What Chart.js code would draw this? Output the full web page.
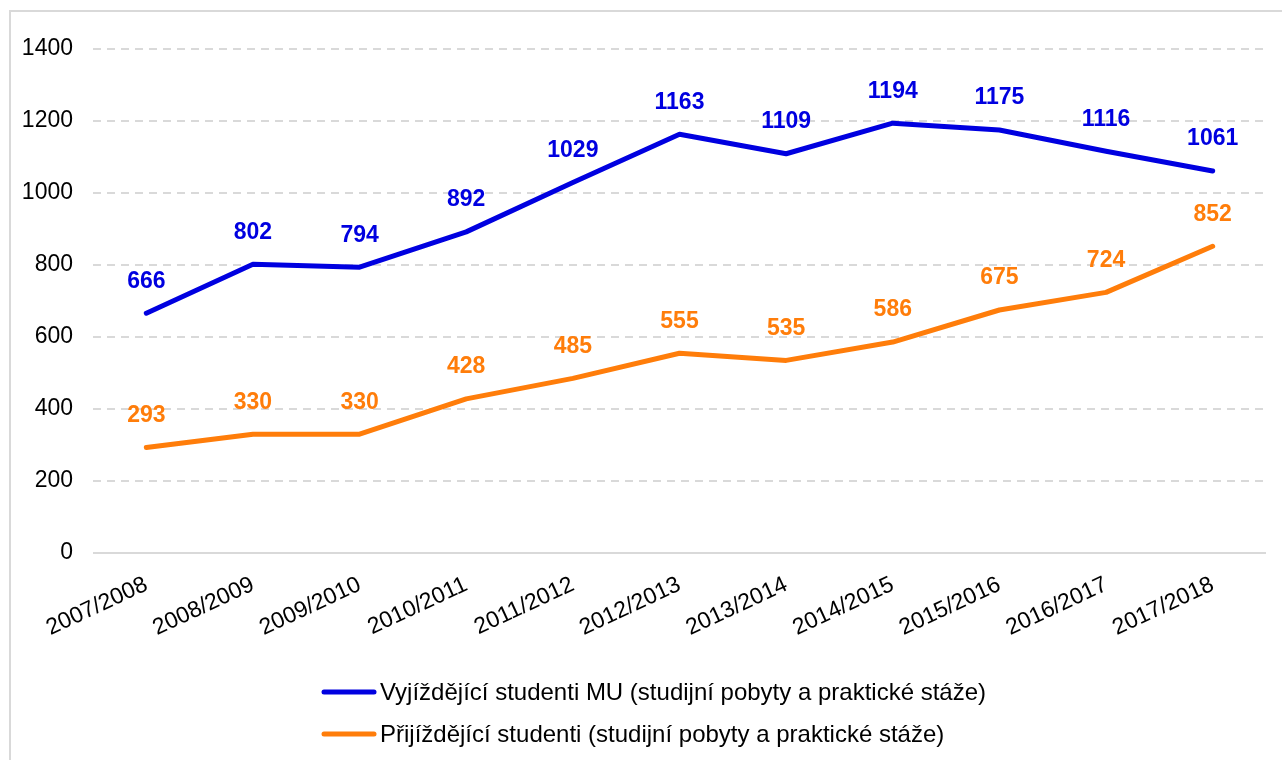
<!DOCTYPE html>
<html>
<head>
<meta charset="utf-8">
<style>
  html, body { margin: 0; padding: 0; background: #fff; }
  #wrap { width: 1282px; height: 760px; position: relative; }
</style>
<script src="https://cdn.jsdelivr.net/npm/chart.js@4"></script>
</head>
<body>
<div id="wrap"><canvas id="c" width="1282" height="760"></canvas></div>
<script>
const categories = ['2007/2008','2008/2009','2009/2010','2010/2011','2011/2012','2012/2013','2013/2014','2014/2015','2015/2016','2016/2017','2017/2018'];
const outgoing = [666, 802, 794, 892, 1029, 1163, 1109, 1194, 1175, 1116, 1061];
const incoming = [293, 330, 330, 428, 485, 555, 535, 586, 675, 724, 852];
const seriesNames = ['Vyjíždějící studenti MU (studijní pobyty a praktické stáže)', 'Přijíždějící studenti (studijní pobyty a praktické stáže)'];
const yTicks = [0, 200, 400, 600, 800, 1000, 1200, 1400];

const BLUE = '#0000e0';
const ORANGE = '#ff7d0a';
const FONT = "'Liberation Sans', Arial, sans-serif";

const borderPlugin = {
  id: 'borderBox',
  beforeDraw(chart) {
    const ctx = chart.ctx;
    ctx.save();
    ctx.fillStyle = '#fff';
    ctx.fillRect(0, 0, chart.width, chart.height);
    ctx.strokeStyle = '#d9d9d9';
    ctx.lineWidth = 2;
    ctx.strokeRect(10, 11, chart.width + 20, chart.height + 20);
    ctx.restore();
  }
};

const zeroLine = {
  id: 'zeroLine',
  beforeDatasetsDraw(chart) {
    const y = chart.scales.y.getPixelForValue(0);
    const ctx = chart.ctx;
    ctx.save();
    ctx.strokeStyle = '#d9d9d9';
    ctx.lineWidth = 2;
    ctx.beginPath();
    ctx.moveTo(chart.chartArea.left, y);
    ctx.lineTo(chart.chartArea.right, y);
    ctx.stroke();
    ctx.restore();
  }
};

const dataLabels = {
  id: 'dataLabels',
  afterDatasetsDraw(chart) {
    const ctx = chart.ctx;
    ctx.save();
    ctx.font = "bold 23px " + FONT;
    ctx.textAlign = 'center';
    ctx.textBaseline = 'middle';
    chart.data.datasets.forEach((ds, i) => {
      const meta = chart.getDatasetMeta(i);
      ctx.fillStyle = ds.borderColor;
      meta.data.forEach((pt, j) => {
        ctx.fillText(String(ds.data[j]), pt.x, pt.y - 32);
      });
    });
    ctx.restore();
  }
};

const customLegend = {
  id: 'customLegend',
  afterDraw(chart) {
    const ctx = chart.ctx;
    ctx.save();
    ctx.font = "24px " + FONT;
    ctx.textBaseline = 'middle';
    ctx.textAlign = 'left';
    const x0 = 324, x1 = 374, tx = 380;
    const ys = [692, 734];
    chart.data.datasets.forEach((ds, i) => {
      ctx.strokeStyle = ds.borderColor;
      ctx.lineWidth = 5;
      ctx.lineCap = 'round';
      ctx.beginPath();
      ctx.moveTo(x0, ys[i]);
      ctx.lineTo(x1, ys[i]);
      ctx.stroke();
      ctx.fillStyle = '#000';
      ctx.fillText(ds.label, tx, ys[i] + 1);
    });
    ctx.restore();
  }
};

new Chart(document.getElementById('c'), {
  type: 'line',
  data: {
    labels: categories,
    datasets: [
      { label: seriesNames[0], data: outgoing, borderColor: BLUE, backgroundColor: BLUE, borderWidth: 5, pointRadius: 0, tension: 0, borderCapStyle: 'round', borderJoinStyle: 'round' },
      { label: seriesNames[1], data: incoming, borderColor: ORANGE, backgroundColor: ORANGE, borderWidth: 5, pointRadius: 0, tension: 0, borderCapStyle: 'round', borderJoinStyle: 'round' }
    ]
  },
  options: {
    responsive: false,
    animation: false,
    devicePixelRatio: 1,
    layout: { padding: { left: 10, right: 16, top: 49, bottom: 107 } },
    plugins: {
      legend: { display: false },
      tooltip: { enabled: false }
    },
    scales: {
      x: {
        offset: true,
        grid: { display: false, drawTicks: false },
        border: { display: false },
        ticks: { color: '#000', font: { family: FONT, size: 23 }, maxRotation: 25, minRotation: 25, padding: 18, autoSkip: false },
        afterFit(scale) { scale.height = 100; }
      },
      y: {
        min: 0, max: 1400,
        afterBuildTicks(scale) { scale.ticks = yTicks.map(v => ({ value: v })); },
        grid: {
          drawTicks: false,
          color: ctx => ctx.tick && ctx.tick.value === 0 ? 'rgba(0,0,0,0)' : '#d9d9d9',
          lineWidth: 2
        },
        border: { display: false, dash: [8, 6] },
        ticks: { color: '#000', font: { family: FONT, size: 23 }, padding: 20, callback: v => String(v) },
        afterFit(scale) { scale.width = 83; }
      }
    }
  },
  plugins: [borderPlugin, zeroLine, dataLabels, customLegend]
});
</script>
</body>
</html>
